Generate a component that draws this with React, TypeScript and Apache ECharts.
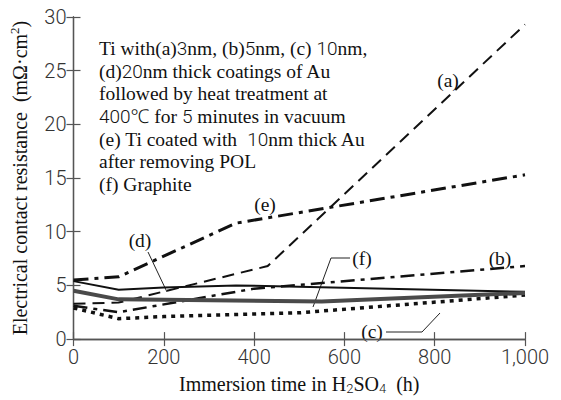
import React, { useEffect, useRef } from "react";
import * as echarts from "echarts";

// ---- data ----
const xTicks = [0, 200, 400, 600, 800, 1000];
const yTicks = [0, 5, 10, 15, 20, 25, 30];

const timeA = [0, 100, 430, 1000];
const valA = [3.3, 3.4, 6.8, 29.3];
const timeB = [0, 100, 400, 1000];
const valB = [3.1, 2.5, 4.7, 6.8];
const timeC = [0, 100, 200, 500, 1000];
const valC = [2.9, 1.9, 2.1, 2.45, 4.1];
const timeD = [0, 100, 200, 360, 1000];
const valD = [5.4, 4.6, 4.8, 5.0, 4.4];
const timeE = [0, 100, 360, 1000];
const valE = [5.5, 5.8, 10.8, 15.3];
const timeF = [0, 100, 550, 1000];
const valF = [4.5, 3.7, 3.5, 4.3];

const noteLines = [
  "Ti with(a)3nm, (b)5nm, (c) 10nm,",
  "(d)20nm thick coatings of Au",
  "followed by heat treatment at",
  "400℃ for 5 minutes in vacuum",
  "(e) Ti coated with  10nm thick Au",
  "after removing POL",
  "(f) Graphite",
];

const SERIF = '"Liberation Serif", "Times New Roman", serif';
const SANS = 'Roboto, "Noto Sans", sans-serif';

const pairs = (xs: number[], ys: number[]) => xs.map((x, i) => [x, ys[i]]);
const digitsRich = (s: string) => s.replace(/[0-9℃]+/g, (m) => `{n|${m}}`);

export default function App() {
  const ref = useRef<HTMLDivElement>(null);
  useEffect(() => {
    if (!ref.current) return;
    const chart = echarts.init(ref.current, undefined, { renderer: "svg" });
    const axisLine = { show: true, lineStyle: { color: "#555", width: 1.3 } };
    const tick = { show: true, inside: true, length: 7, lineStyle: { color: "#555", width: 1.2 } };
    const labelTxt = { color: "#333", fontFamily: SANS, fontWeight: 300 as any, fontSize: 20 };
    const mkLine = (name: string, xs: number[], ys: number[], ls: any) => ({
      name,
      type: "line",
      data: pairs(xs, ys),
      showSymbol: false,
      symbol: "none",
      lineStyle: { cap: "butt", join: "miter", ...ls },
      z: 3,
    });
    const txt = (text: string, x: number, y: number) => ({
      type: "text",
      x,
      y,
      style: {
        text,
        fontFamily: SERIF,
        fontSize: 19.5,
        fill: "#111",
        align: "center",
        verticalAlign: "middle",
      },
    });
    chart.setOption({
      animation: false,
      backgroundColor: "#fff",
      grid: { left: 72, right: 36, top: 17, bottom: 54 },
      xAxis: [
        {
          type: "value",
          min: 0,
          max: 1000,
          interval: 200,
          axisLine,
          axisTick: tick,
          splitLine: { show: false },
          axisLabel: {
            ...labelTxt,
            margin: 8,
            formatter: (v: number) => v.toLocaleString("en-US"),
          },
          name: "Immersion time in H{sub|2}SO{sub|4}  (h)",
          nameLocation: "middle",
          nameGap: 32,
          nameTextStyle: {
            fontFamily: SERIF,
            fontSize: 20,
            color: "#111",
            lineHeight: 22,
            rich: {
              sub: { fontFamily: SANS, fontWeight: 300, fontSize: 13, lineHeight: 12, padding: [10, 0, 0, 0], color: "#111" },
            },
          },
        },
        {
          type: "value",
          position: "top",
          min: 0,
          max: 1000,
          interval: 200,
          axisLine,
          axisTick: tick,
          axisLabel: { show: false },
          splitLine: { show: false },
        },
      ],
      yAxis: [
        {
          type: "value",
          min: 0,
          max: 30,
          interval: 5,
          axisLine,
          axisTick: tick,
          splitLine: { show: false },
          axisLabel: { ...labelTxt, margin: 7 },
          name: "Electrical contact resistance  (mΩ·cm{sup|2})",
          nameLocation: "middle",
          nameGap: 43,
          nameTextStyle: {
            fontFamily: SERIF,
            fontSize: 20,
            color: "#111",
            lineHeight: 22,
            rich: {
              sup: { fontFamily: SERIF, fontSize: 13, lineHeight: 12, padding: [0, 0, 10, 0], color: "#111" },
            },
          },
        },
        {
          type: "value",
          position: "right",
          min: 0,
          max: 30,
          interval: 5,
          axisLine,
          axisTick: tick,
          axisLabel: { show: false },
          splitLine: { show: false },
        },
      ],
      series: [
        mkLine("(a)", timeA, valA, { color: "#111", width: 2, type: [12, 7] }),
        mkLine("(b)", timeB, valB, { color: "#111", width: 2.5, type: [14, 6, 4, 6] }),
        mkLine("(c)", timeC, valC, { color: "#111", width: 3.5, type: [4, 5] }),
        mkLine("(d)", timeD, valD, { color: "#111", width: 2, type: "solid" }),
        mkLine("(e)", timeE, valE, { color: "#111", width: 3, type: [15, 6, 4, 6] }),
        mkLine("(f)", timeF, valF, { color: "#4a4a4a", width: 4, type: "solid" }),
      ],
      graphic: [
        {
          type: "text",
          x: 99,
          y: 37,
          style: {
            text: noteLines.map(digitsRich).join("\n"),
            fontFamily: SERIF,
            fontSize: 19.5,
            fill: "#111",
            lineHeight: 22.7,
            rich: {
              n: { fontFamily: SANS, fontWeight: 300, fontSize: 19, lineHeight: 22.7, fill: "#111" },
            },
          },
          z: 10,
        },
        txt("(a)", 448, 80),
        txt("(b)", 500, 258),
        txt("(c)", 372, 331),
        txt("(d)", 140, 240),
        txt("(e)", 265, 204),
        txt("(f)", 362, 258),
        { type: "polyline", shape: { points: [[386, 332], [422, 332], [440, 313]] }, style: { stroke: "#222", lineWidth: 1, fill: null } },
        { type: "line", shape: { x1: 148, y1: 252, x2: 167, y2: 292 }, style: { stroke: "#222", lineWidth: 1 } },
        { type: "polyline", shape: { points: [[350, 258], [331, 258], [313, 307]] }, style: { stroke: "#222", lineWidth: 1, fill: null } },
      ],
    });
    return () => chart.dispose();
  }, []);
  return <div ref={ref} style={{ width: 561, height: 400, position: "absolute", left: 0, top: 0 }} />;
}
